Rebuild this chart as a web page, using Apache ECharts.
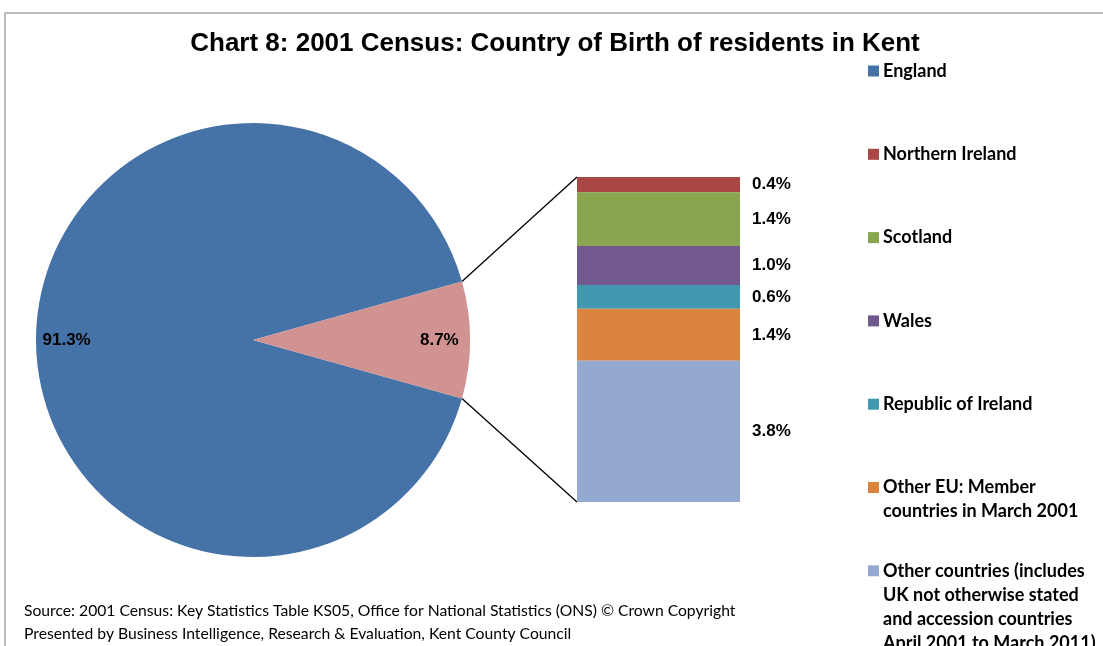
<!DOCTYPE html>
<html>
<head>
<meta charset="utf-8">
<script src="https://cdn.jsdelivr.net/npm/echarts@6/dist/echarts.min.js"></script>
<style>
    html, body { margin: 0; padding: 0; background: #fff; }
    #chart { width: 1103px; height: 646px; }
</style>
</head>
<body>
<div id="chart"></div>
<script>
// pie: England vs everyone else
const pieNames = ['England', 'Other'];
const pieValues = [91.3, 8.7];
// bar: breakdown of the "other" slice, top to bottom
const barNames = ['Northern Ireland', 'Scotland', 'Wales', 'Republic of Ireland',
    'Other EU: Member countries in March 2001',
    'Other countries (includes UK not otherwise stated and accession countries April 2001 to March 2011)'];
const barValues = [0.41, 1.44, 1.04, 0.64, 1.39, 3.78];
const legendLabels = ['England', 'Northern Ireland', 'Scotland', 'Wales', 'Republic of Ireland',
    'Other EU: Member\ncountries in March 2001',
    'Other countries (includes\nUK not otherwise stated\nand accession countries\nApril 2001 to March 2011)'];

const pieColors = ['#4572A7', '#D09392'];
const barColors = ['#AA4643', '#89A54E', '#71588F', '#4198AF', '#DB843D', '#93A9CF'];
const legendColors = [pieColors[0]].concat(barColors);

const pieCenter = [253, 340];
const pieRadius = 217;
const grid = { left: 577, top: 177, width: 163, height: 325 };

const pieTotal = pieValues.reduce((a, b) => a + b, 0);
const barTotal = barValues.reduce((a, b) => a + b, 0);
// put the small slice centred on the right-hand side
const halfOther = pieValues[1] / pieTotal * 180;
const startAngle = -halfOther;

// mid angle of each slice (degrees, ccw from 3 o'clock), used to push labels outwards
const midAngles = [];
let acc = startAngle;
pieValues.forEach(v => {
    const sweep = v / pieTotal * 360;
    midAngles.push(acc - sweep / 2);
    acc -= sweep;
});

const chart = echarts.init(document.getElementById('chart'));

const labelFont = '"Liberation Sans", Arial';

const legendGraphics = legendLabels.map((label, i) => ({
    type: 'group',
    x: 868,
    y: 71 + i * 83.3,
    children: [
        { type: 'rect', shape: { x: 0, y: -5.5, width: 11, height: 11 }, style: { fill: legendColors[i] } },
        {
            type: 'text', x: 15, y: 0,
            style: {
                text: label, fill: '#000', font: 'bold 18px Lato',
                lineHeight: 24, verticalAlign: 'top', y: -12
            }
        }
    ]
}));

// connector lines from the small slice's edges to the bar's top and bottom corners
const a = halfOther * Math.PI / 180;
const pTop = [pieCenter[0] + pieRadius * Math.cos(a), pieCenter[1] - pieRadius * Math.sin(a)];
const pBot = [pieCenter[0] + pieRadius * Math.cos(a), pieCenter[1] + pieRadius * Math.sin(a)];
const lineStyle = { stroke: '#000', lineWidth: 1.3 };

const graphics = [
    {
        type: 'rect', shape: { x: 5, y: 13, width: 1200, height: 700 },
        style: { fill: 'none', stroke: '#a6a6a6', lineWidth: 1.5 }, z: -1
    },
    {
        type: 'text', x: 555, y: 44,
        style: {
            text: 'Chart 8: 2001 Census: Country of Birth of residents in Kent',
            font: 'bold 26px ' + labelFont, fill: '#000',
            align: 'center', verticalAlign: 'middle'
        }
    },
    {
        type: 'text', x: 24, y: 599,
        style: {
            text: 'Source: 2001 Census: Key Statistics Table KS05, Office for National Statistics (ONS) \u00a9 Crown Copyright\nPresented by Business Intelligence, Research & Evaluation, Kent County Council',
            font: '15.7px Lato', fill: '#000', lineHeight: 23, verticalAlign: 'top'
        }
    },
    { type: 'line', shape: { x1: pTop[0], y1: pTop[1], x2: grid.left, y2: grid.top }, style: lineStyle },
    { type: 'line', shape: { x1: pBot[0], y1: pBot[1], x2: grid.left, y2: grid.top + grid.height }, style: lineStyle }
].concat(legendGraphics);

chart.setOption({
    animation: false,
    grid: grid,
    xAxis: { type: 'category', data: [''], show: false },
    yAxis: { type: 'value', min: 0, max: barTotal, inverse: true, show: false },
    series: [
        {
            type: 'pie',
            center: pieCenter,
            radius: pieRadius,
            startAngle: startAngle,
            clockwise: true,
            data: pieNames.map((n, i) => ({ name: n, value: pieValues[i], itemStyle: { color: pieColors[i] } })),
            label: {
                show: true,
                position: 'inside',
                formatter: p => p.value.toFixed(1) + '%',
                color: '#000',
                fontWeight: 'bold',
                fontSize: 17,
                fontFamily: labelFont
            },
            labelLayout: params => {
                const ang = midAngles[params.dataIndex] * Math.PI / 180;
                const shift = pieRadius * 0.345;
                return { dx: Math.cos(ang) * shift, dy: -Math.sin(ang) * shift };
            },
            emphasis: { disabled: true }
        }
    ].concat(barNames.map((n, i) => ({
        type: 'bar',
        name: n,
        stack: 'other',
        data: [barValues[i]],
        barWidth: '100%',
        itemStyle: { color: barColors[i] },
        label: {
            show: true,
            position: 'right',
            distance: 12,
            formatter: p => p.value.toFixed(1) + '%',
            color: '#000',
            fontWeight: 'bold',
            fontSize: 17,
            fontFamily: labelFont
        },
        emphasis: { disabled: true }
    }))),
    graphic: graphics
});
</script>
</body>
</html>
